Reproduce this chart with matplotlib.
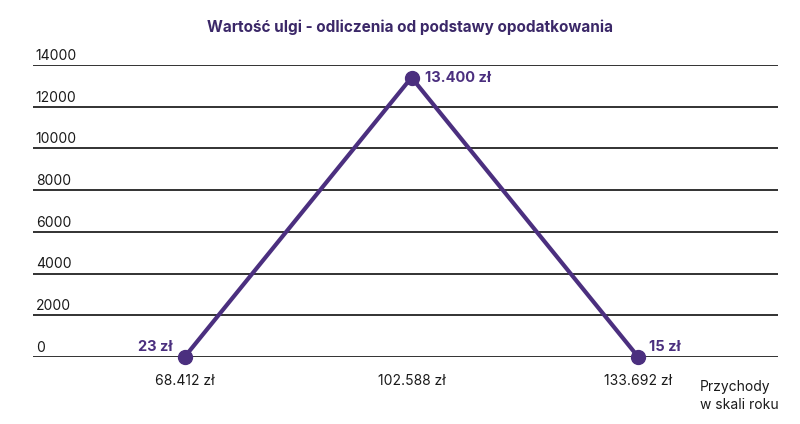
import numpy as np
import matplotlib.pyplot as plt

plt.rcParams['font.family'] = ['Inter', 'DejaVu Sans']

# dane
przychody = ['68.412 zł', '102.588 zł', '133.692 zł']
ulga = [23, 13400, 15]
etykiety = ['23 zł', '13.400 zł', '15 zł']
yticks = [0, 2000, 4000, 6000, 8000, 10000, 12000, 14000]

purple = '#4b2f7f'
title_color = '#3b2868'

fig = plt.figure(figsize=(8, 4.24), dpi=100)
ax = fig.add_axes([33 / 800, 1 - 357 / 424, (778 - 33) / 800, (357 - 65) / 424])

x = np.arange(len(przychody))
ax.set_xlim(-0.671, 2.618)
ax.set_ylim(0, 14000)

# linie siatki
for v in yticks:
    ax.axhline(v, color='#222222', lw=1.3, zorder=1)
    ax.annotate(str(v), xy=(0, v), xycoords=('axes fraction', 'data'),
                xytext=(2, 1.5), textcoords='offset points',
                ha='left', va='bottom', fontsize=10, color='#1a1a1a')

ax.plot(x, ulga, color=purple, lw=3, marker='o', ms=10, zorder=3, clip_on=False)

# etykiety punktów
ax.annotate(etykiety[0], xy=(x[0], ulga[0]), xytext=(-9, 2), textcoords='offset points',
            ha='right', va='bottom', fontsize=10.5, fontweight='bold', color=purple)
ax.annotate(etykiety[1], xy=(x[1], ulga[1]), xytext=(10, 0), textcoords='offset points',
            ha='left', va='center', fontsize=10.5, fontweight='bold', color=purple)
ax.annotate(etykiety[2], xy=(x[2], ulga[2]), xytext=(8, 2), textcoords='offset points',
            ha='left', va='bottom', fontsize=10.5, fontweight='bold', color=purple)

# oś x
for xi, lab in zip(x, przychody):
    ax.annotate(lab, xy=(xi, 0), xytext=(0, -17), textcoords='offset points',
                ha='center', va='center', fontsize=10, color='#1a1a1a')
ax.annotate('Przychody\nw skali roku', xy=(700 / 800, 1 - 380 / 424), xycoords='figure fraction',
            ha='left', va='top', fontsize=10, color='#1a1a1a', linespacing=1.4)

ax.set_xticks([])
ax.set_yticks([])
for s in ax.spines.values():
    s.set_visible(False)

fig.text(410 / 800, 1 - 27 / 424, 'Wartość ulgi - odliczenia od podstawy opodatkowania',
         ha='center', va='center', fontsize=11, fontweight='bold', color=title_color)

fig.savefig('out.png', dpi=100)
